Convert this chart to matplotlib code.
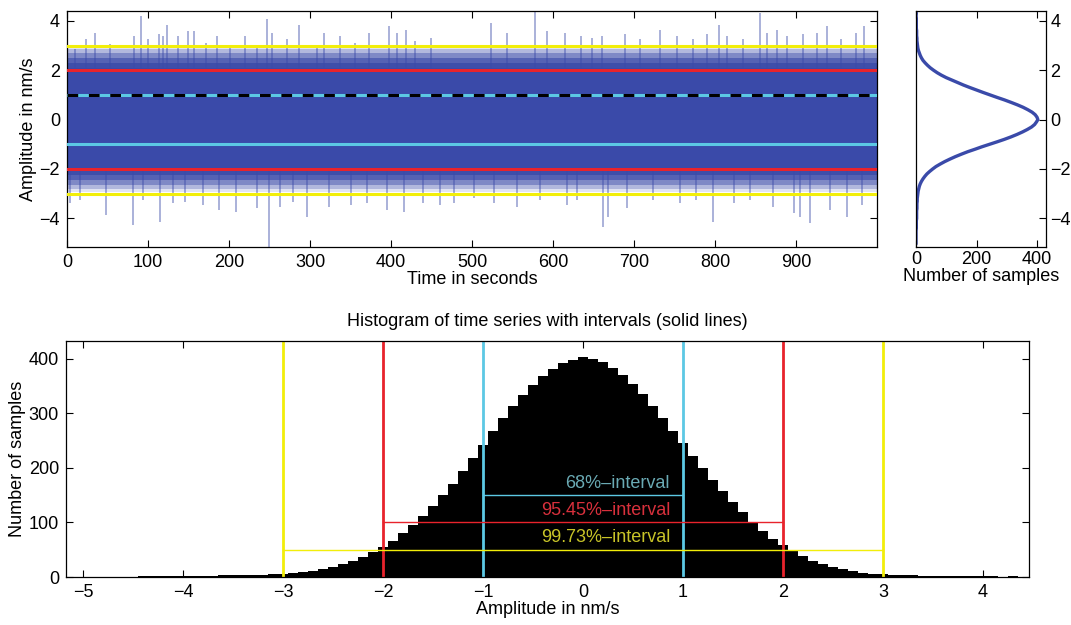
import numpy as np
import matplotlib
matplotlib.use("Agg")
import matplotlib.pyplot as plt

plt.rcParams["font.family"] = ["Liberation Sans", "DejaVu Sans"]
plt.rcParams["font.size"] = 13

# histogram of the amplitudes, 0.1 nm/s bins (bin centres -5.0 ... 4.4)
amp_centres = np.round(np.arange(-5.0, 4.45, 0.1), 1)
counts = [0, 0, 0, 0, 0, 0, 1, 1, 1, 1,
          2, 2, 2, 2, 3, 3, 3, 4, 4, 5,
          6, 7, 9, 11, 14, 18, 23, 29, 36, 45,
          55, 66, 80, 95, 112, 130, 150, 171, 195, 218,
          243, 268, 292, 314, 334, 352, 368, 382, 392, 398,
          403, 400, 394, 384, 370, 354, 335, 314, 292, 268,
          245, 222, 200, 178, 157, 138, 119, 100, 84, 70,
          58, 47, 38, 30, 23, 18, 14, 11, 8, 6,
          5, 4, 3, 3, 2, 2, 2, 1, 1, 1,
          1, 1, 0, 1, 0]

# time series: dense core band (fading towards the fringe) plus the larger spikes
duration = 1000
band_upper = [2.1, 2.3, 2.5, 2.7, 2.85, 3.0]
band_lower = [-2.05, -2.25, -2.45, -2.65, -2.8, -2.95]
band_alpha = [1.0, 0.8, 0.6, 0.42, 0.28, 0.15]
spike_up_t = [10, 24, 34, 53, 83, 91, 100, 114, 119, 123, 137, 149, 157, 171, 185,
              201, 220, 234, 247, 253, 271, 286, 308, 317, 337, 356, 373, 397, 407,
              418, 430, 449, 523, 543, 578, 593, 615, 634, 648, 660, 689, 707, 732,
              753, 773, 790, 805, 815, 834, 856, 864, 876, 889, 909, 926, 938, 955,
              974, 984]
spike_up_a = [2.85, 3.28, 3.5, 3.05, 3.4, 4.2, 3.25, 3.45, 3.4, 3.85, 3.4, 3.6, 3.6,
              3.1, 3.4, 3.0, 3.4, 3.0, 4.07, 3.5, 3.25, 3.85, 3.0, 3.5, 3.4, 3.1, 3.5,
              3.8, 3.5, 3.65, 3.2, 3.3, 3.93, 3.5, 4.45, 3.6, 3.5, 3.4, 3.3, 3.4, 3.45,
              3.25, 3.65, 3.4, 3.25, 3.45, 3.85, 3.4, 3.25, 4.33, 3.5, 3.65, 3.4, 3.45,
              3.5, 3.8, 3.25, 3.5, 3.8]
spike_dn_t = [4, 16, 48, 82, 94, 115, 131, 146, 168, 187, 209, 234, 249, 263, 279,
              296, 323, 350, 370, 395, 416, 440, 461, 478, 502, 527, 555, 584, 617,
              629, 662, 668, 691, 724, 757, 777, 798, 823, 843, 872, 897, 905, 917,
              942, 963, 981]
spike_dn_a = [-3.39, -3.25, -3.86, -4.27, -3.25, -4.13, -3.39, -3.32, -3.46, -3.66,
              -3.73, -3.6, -5.2, -3.52, -3.32, -3.93, -3.52, -3.46, -3.39, -3.66,
              -3.73, -3.39, -3.46, -3.39, -3.18, -3.39, -3.52, -3.25, -3.46, -3.25,
              -4.34, -3.93, -3.6, -3.25, -3.39, -3.25, -4.13, -3.39, -3.25, -3.52,
              -3.8, -3.93, -4.2, -3.66, -3.93, -3.46]

# interval limits (sigma multiples) and their marker heights in the histogram
interval_k = [1, 2, 3]
interval_h = [150, 100, 50]
interval_lbl = ["68%–interval", "95.45%–interval", "99.73%–interval"]
line_cols = ["#5cc8e4", "#e8232c", "#f2ee0a"]
text_cols = ["#6aaab4", "#d8303c", "#c8c428"]

BLUE = "#3a4aa9"
YLIM = (-5.16, 4.4)

fig = plt.figure(figsize=(10.71, 6.25), dpi=100)
ax_ts = fig.add_axes([0.0626, 0.6048, 0.7563, 0.3776])
ax_hr = fig.add_axes([0.8553, 0.6048, 0.1214, 0.3776])
ax_h = fig.add_axes([0.0616, 0.0768, 0.8992, 0.3776])


def matlab_ticks(ax):
    ax.tick_params(direction="in", top=True, right=True, length=5, width=0.8, pad=5)
    for s in ax.spines.values():
        s.set_linewidth(0.9)


# --- time series ---
for hi, lo, al in zip(band_upper, band_lower, band_alpha):
    ax_ts.fill_between([0, duration], lo, hi, color=BLUE, alpha=al, lw=0, zorder=1)
ax_ts.fill_between([0, duration], band_lower[0], band_upper[0], color=BLUE, lw=0, zorder=2)
ax_ts.vlines(spike_up_t, 0, spike_up_a, color=BLUE, alpha=0.5, lw=1.2, zorder=1)
ax_ts.vlines(spike_dn_t, 0, spike_dn_a, color=BLUE, alpha=0.5, lw=1.2, zorder=1)
for k, c in zip(interval_k[::-1], line_cols[::-1]):
    ax_ts.axhline(k, color=c, lw=2.2, zorder=3)
    ax_ts.axhline(-k, color=c, lw=2.2, zorder=3)
    if k == 1:
        ax_ts.axhline(k, color="black", lw=2.2, dashes=(3.5, 3.5), zorder=4)
ax_ts.set_xlim(0, duration)
ax_ts.set_ylim(*YLIM)
ax_ts.set_xticks(range(0, 1000, 100))
ax_ts.set_yticks([-4, -2, 0, 2, 4])
ax_ts.set_xlabel("Time in seconds", labelpad=0)
ax_ts.set_ylabel("Amplitude in nm/s", labelpad=2)
matlab_ticks(ax_ts)

# --- rotated histogram ---
ax_hr.plot(counts, amp_centres, color=BLUE, lw=2.4)
ax_hr.set_xlim(0, 430)
ax_hr.set_ylim(*YLIM)
ax_hr.set_xticks([0, 200, 400])
ax_hr.set_yticks([-4, -2, 0, 2, 4])
ax_hr.yaxis.tick_right()
ax_hr.set_xlabel("Number of samples", labelpad=0)
matlab_ticks(ax_hr)
ax_hr.tick_params(labelleft=False, labelright=True, pad=3)

# --- histogram with intervals ---
ax_h.bar(amp_centres, counts, width=0.1, color="black", lw=0)
for k, h, lbl, lc, tc in zip(interval_k, interval_h, interval_lbl, line_cols, text_cols):
    ax_h.axvline(-k, color=lc, lw=2)
    ax_h.axvline(k, color=lc, lw=2)
    ax_h.plot([-k, k], [h, h], color=lc, lw=1)
    ax_h.text(0.87, h + 6, lbl, color=tc, ha="right", va="bottom")
ax_h.set_xlim(-5.17, 4.46)
ax_h.set_ylim(0, 433)
ax_h.set_xticks(range(-5, 5))
ax_h.set_yticks([0, 100, 200, 300, 400])
ax_h.set_xlabel("Amplitude in nm/s", labelpad=0)
ax_h.set_ylabel("Number of samples", labelpad=2)
ax_h.set_title("Histogram of time series with intervals (solid lines)", fontsize=13, pad=11)
matlab_ticks(ax_h)

fig.savefig("out.png", dpi=100)
